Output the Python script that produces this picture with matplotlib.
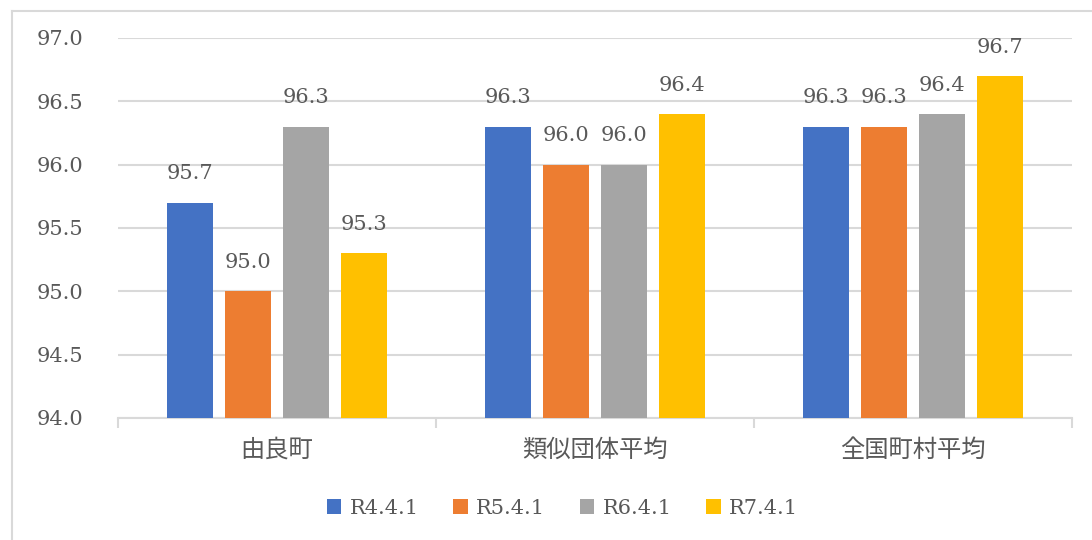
import numpy as np
import matplotlib.pyplot as plt
from matplotlib.patches import Patch
from matplotlib.lines import Line2D

plt.rcParams['font.family'] = ['DejaVu Serif', 'Noto Sans CJK JP', 'DejaVu Sans']

categories = ['由良町', '類似団体平均', '全国町村平均']
series = ['R4.4.1', 'R5.4.1', 'R6.4.1', 'R7.4.1']
values = [
    [95.7, 96.3, 96.3],
    [95.0, 96.0, 96.3],
    [96.3, 96.0, 96.4],
    [95.3, 96.4, 96.7],
]
colors = ['#4472C4', '#ED7D31', '#A5A5A5', '#FFC000']
yticks = [94.0, 94.5, 95.0, 95.5, 96.0, 96.5, 97.0]

text_color = '#595959'
grid_color = '#D9D9D9'

fig = plt.figure(figsize=(10.92, 5.4), dpi=100)
ax = fig.add_axes([0.108, 0.226, 0.8737, 0.7037])

x = np.arange(len(categories))
step = 0.182
width = 0.145
for i, (name, vals) in enumerate(zip(series, values)):
    pos = x + (i - 1.5) * step
    ax.bar(pos, np.array(vals) - 94.0, width, bottom=94.0, color=colors[i], zorder=3)
    for xp, v in zip(pos, vals):
        ax.annotate(f'{v:.1f}', (xp, v), xytext=(0, 14), textcoords='offset points',
                    ha='center', va='bottom', fontsize=15, color=text_color)

ax.set_xlim(-0.5, 2.5)
ax.set_ylim(94.0, 97.0)
ax.set_yticks(yticks)
ax.set_yticklabels([f'{t:.1f}' for t in yticks], fontsize=15, color=text_color)
ax.tick_params(axis='y', length=0, pad=25)
ax.yaxis.grid(True, color=grid_color, linewidth=1.5, zorder=0)

ax.set_xticks(x)
ax.set_xticklabels(categories, fontsize=17.5, color=text_color)
ax.tick_params(axis='x', length=0, pad=15)
ax.set_xticks([-0.5, 0.5, 1.5, 2.5], minor=True)
ax.tick_params(axis='x', which='minor', length=7, width=1.5, color=grid_color)

for s in ['top', 'right', 'left']:
    ax.spines[s].set_visible(False)
ax.spines['bottom'].set_color(grid_color)
ax.spines['bottom'].set_linewidth(1.5)

handles = [Patch(facecolor=c, edgecolor='none') for c in colors]
fig.legend(handles, series, loc='center', bbox_to_anchor=(0.515, 0.059), ncol=4,
           frameon=False, fontsize=15, handlelength=0.7, handleheight=0.7,
           handletextpad=0.4, columnspacing=1.65, labelcolor=text_color)

# outer chart border
fig.add_artist(Line2D([12 / 1092, 12 / 1092], [0, 1 - 11 / 540], transform=fig.transFigure,
                      color=grid_color, linewidth=1.5))
fig.add_artist(Line2D([12 / 1092, 1], [1 - 11 / 540, 1 - 11 / 540], transform=fig.transFigure,
                      color=grid_color, linewidth=1.5))

fig.savefig('out.png', dpi=100)
